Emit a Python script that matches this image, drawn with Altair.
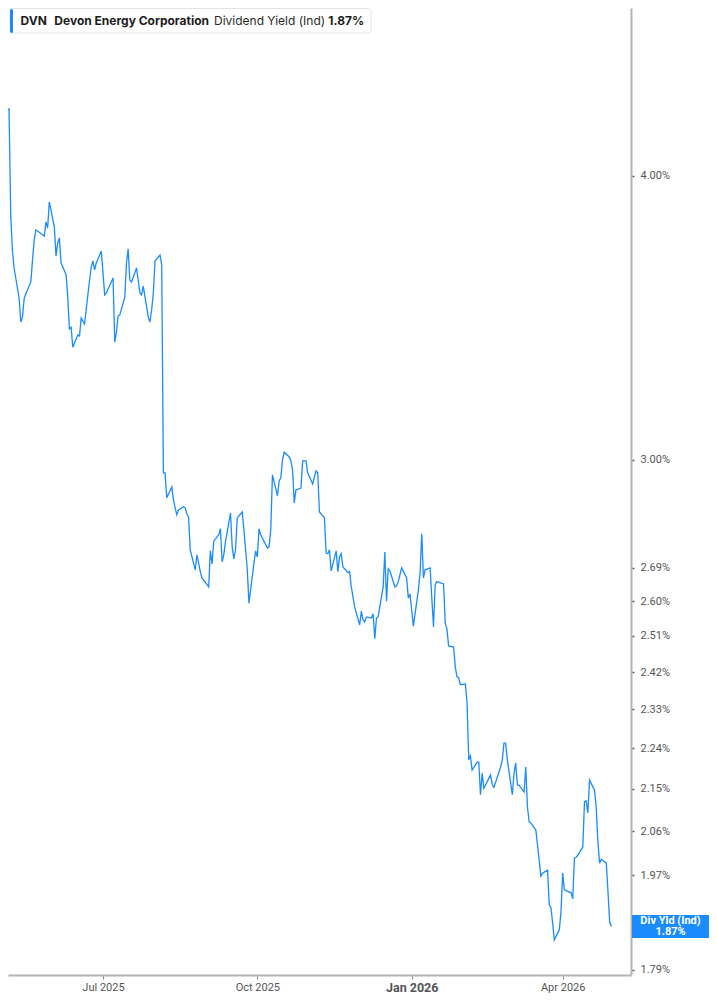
import altair as alt
import pandas as pd

# ---------------- data ----------------
ticker = "DVN"
company = "Devon Energy Corporation"
metric = "Dividend Yield (Ind)"
short_metric = "Div Yld (Ind)"

first_day = "2025-04-30"
last_day = "2026-04-30"
market_holidays = ["2025-05-26", "2025-06-19", "2025-07-04", "2025-09-01",
                   "2025-11-27", "2025-12-25", "2026-01-01", "2026-01-19",
                   "2026-02-16", "2026-04-03"]

# daily indicated dividend yield (%), one value per trading day
yield_may_jun_2025 = [4.307, 4.204, 4.170, 4.277, 4.281, 3.846, 3.711, 3.644, 3.535, 3.450,
                      3.467, 3.532, 3.550, 3.593, 3.674, 3.749, 3.787, 3.783, 3.764, 3.818,
                      3.795, 3.896, 3.799, 3.689, 3.738, 3.757, 3.663, 3.619, 3.539, 3.426,
                      3.432, 3.363, 3.405, 3.401, 3.464, 3.443, 3.600, 3.648, 3.670, 3.637,
                      3.663, 3.707]
yield_jul_sep_2025 = [3.626, 3.546, 3.553, 3.607, 3.381, 3.415, 3.471, 3.474,
                      3.539, 3.663, 3.715, 3.600, 3.593, 3.644, 3.600, 3.553, 3.546, 3.578,
                      3.467, 3.450, 3.492, 3.553, 3.670, 3.692, 3.655, 2.961, 2.961, 2.887,
                      2.919, 2.881, 2.858, 2.838, 2.852, 2.861, 2.858, 2.840, 2.832, 2.739,
                      2.684, 2.725, 2.703, 2.679, 2.662, 2.638, 2.736, 2.700, 2.763, 2.781,
                      2.798, 2.706, 2.725, 2.761, 2.843, 2.747, 2.714, 2.739, 2.829, 2.846,
                      2.795, 2.739, 2.684, 2.595, 2.703, 2.736]
yield_oct_dec_2025 = [2.719, 2.798, 2.781, 2.753,
                      2.744, 2.747, 2.795, 2.955, 2.893, 2.937, 2.946, 3.000, 3.024, 3.009,
                      2.997, 2.970, 2.872, 2.910, 2.916, 2.997, 2.997, 2.997, 2.961, 2.928,
                      2.949, 2.967, 2.961, 2.846, 2.829, 2.730, 2.728, 2.739, 2.681, 2.736,
                      2.679, 2.719, 2.728, 2.692, 2.676, 2.679, 2.638, 2.585, 2.538, 2.574,
                      2.551, 2.546, 2.559, 2.556, 2.567, 2.503, 2.556, 2.559, 2.638, 2.733,
                      2.600, 2.687, 2.681, 2.638, 2.641, 2.652, 2.689, 2.662, 2.608, 2.619]
yield_jan_mar_2026 = [2.535, 2.630, 2.676, 2.784, 2.662, 2.684, 2.689, 2.608, 2.533, 2.644,
                      2.652, 2.646, 2.543, 2.528, 2.485, 2.482, 2.432, 2.408, 2.406, 2.389,
                      2.391, 2.346, 2.214, 2.223, 2.191, 2.209, 2.209, 2.137, 2.184, 2.151,
                      2.180, 2.160, 2.153, 2.164, 2.198, 2.214, 2.252, 2.252, 2.214, 2.137,
                      2.184, 2.207, 2.158, 2.158, 2.143, 2.198, 2.111, 2.079, 2.077, 2.062,
                      2.031, 2.000, 1.968, 1.974, 1.980, 1.912, 1.906, 1.877, 1.845, 1.864,
                      1.898]
yield_apr_2026 = [1.974, 1.941, 1.935, 1.923, 2.004, 2.006, 2.010, 2.027, 2.122,
                  2.124, 2.098, 2.169, 2.147, 2.109, 2.037, 1.994, 2.002, 1.994, 1.937,
                  1.879, 1.870]

yield_ticks = [1.79, 1.97, 2.06, 2.15, 2.24, 2.33, 2.42, 2.51, 2.60, 2.69, 3.00, 4.00]
yield_axis_range = [1.7804, 4.742]
quarter_ticks = [(2025, 7, 1), (2025, 10, 1), (2026, 1, 1), (2026, 4, 1)]

values = (yield_may_jun_2025 + yield_jul_sep_2025 + yield_oct_dec_2025
          + yield_jan_mar_2026 + yield_apr_2026)
days = pd.bdate_range(first_day, last_day, freq="C", holidays=market_holidays)
n = min(len(days), len(values))
df = pd.DataFrame({"date": [d.strftime("%Y-%m-%d") for d in days[:n]],
                   "yield": values[:n]})
last_value = values[-1]

# ---------------- style ----------------
LINE = "#1a8cff"
AXIS_GREY = "#b4b4b4"
LABEL_GREY = "#555555"
FONT = "Roboto"
HFONT = "Inter"

x_scale = alt.Scale(type="utc", domain=[
    alt.DateTime(year=2025, month=5, date=5, hours=9, minutes=6, utc=True),
    alt.DateTime(year=2026, month=5, date=11, hours=17, minutes=17, utc=True)])
y_scale = alt.Scale(type="log", domain=yield_axis_range, nice=False, zero=False)

x_axis = alt.Axis(
    title=None, grid=False,
    values=[alt.DateTime(year=y, month=m, date=d, utc=True) for (y, m, d) in quarter_ticks],
    labelExpr="utcFormat(datum.value, '%b %Y')",
    domainColor=AXIS_GREY, domainWidth=2,
    tickColor="#888888", tickSize=4, tickWidth=1,
    labelFont=FONT, labelColor=LABEL_GREY, labelPadding=2,
    labelFontSize={"condition": {"test": "utcmonth(datum.value) == 0", "value": 12.5}, "value": 11},
    labelFontWeight={"condition": {"test": "utcmonth(datum.value) == 0", "value": "bold"}, "value": "normal"},
)
y_axis = alt.Axis(
    title=None, grid=False, orient="right",
    values=yield_ticks,
    labelExpr="format(datum.value, '.2f') + '%'",
    domainColor=AXIS_GREY, domainWidth=2,
    tickColor="#666666", tickSize=3, tickWidth=1.5,
    labelFont=FONT, labelFontSize=11, labelColor=LABEL_GREY, labelPadding=6,
)

line = alt.Chart(df).mark_line(color=LINE, strokeWidth=1.3, clip=True).encode(
    x=alt.X("date:T", scale=x_scale, axis=x_axis),
    y=alt.Y("yield:Q", scale=y_scale, axis=y_axis),
)

one = pd.DataFrame({"k": [0]})

header_box = alt.Chart(one).mark_rect(
    fill="white", stroke="#e4e4e4", strokeWidth=1, cornerRadius=3
).encode(x=alt.value(2), x2=alt.value(363), y=alt.value(0.5), y2=alt.value(25))

header_bar = alt.Chart(one).mark_rect(fill=LINE, cornerRadius=2).encode(
    x=alt.value(2), x2=alt.value(5), y=alt.value(1), y2=alt.value(25))


def htext(txt, xpos, weight, color):
    return alt.Chart(one).mark_text(
        align="left", baseline="middle", font=HFONT, fontSize=12,
        fontWeight=weight, color=color, text=txt
    ).encode(x=alt.value(xpos), y=alt.value(13))


h1 = htext(ticker, 12.5, "bold", "#1c1c1c")
h2 = htext(company, 46.3, "bold", "#1c1c1c")
h3 = htext(metric, 206, "normal", "#2a2a2a")
h4 = htext(f"{last_value:.2f}%", 320.3, "bold", "#1c1c1c")

tag_box = alt.Chart(one).mark_rect(fill=LINE).encode(
    x=alt.value(624), x2=alt.value(701), y=alt.value(907), y2=alt.value(930))
tag_t1 = alt.Chart(one).mark_text(
    align="center", baseline="middle", font=FONT, fontSize=11, fontWeight="bold",
    color="white", text=short_metric
).encode(x=alt.value(662.5), y=alt.value(912.8))
tag_t2 = alt.Chart(one).mark_text(
    align="center", baseline="middle", font=FONT, fontSize=11, fontWeight="bold",
    color="white", text=f"{last_value:.2f}%"
).encode(x=alt.value(662.5), y=alt.value(924.4))

chart = alt.layer(
    line, header_box, header_bar, h1, h2, h3, h4, tag_box, tag_t1, tag_t2
).properties(
    width=623, height=967,
    padding={"left": 0, "top": 0, "right": 78, "bottom": 21},
    autosize=alt.AutoSizeParams(type="none"),
    background="white",
).configure_view(strokeWidth=0)

chart.save("out.html", embed_options={"renderer": "svg", "actions": False})
